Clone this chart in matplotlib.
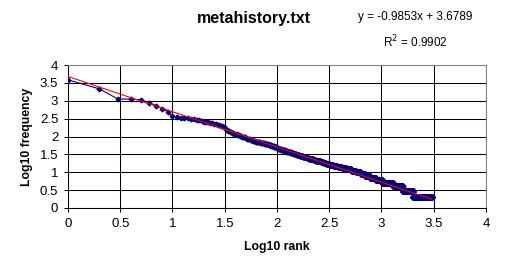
import matplotlib.pyplot as plt
import numpy as np

plt.rcParams['font.family'] = ['Liberation Sans', 'DejaVu Sans']

# word counts of the most frequent words (rank 1, 2, 3, ...)
top_freqs = [3850, 2140, 1120, 1110, 1050, 890, 725, 590, 500, 365,
             340, 338, 330, 320, 310, 300, 295, 285, 270, 262,
             255, 248, 240, 232, 225, 218, 212, 205, 200, 195,
             190, 172, 155, 145, 140, 134, 128, 123,
             120, 117, 114, 111, 108, 105, 102, 100, 98, 96, 94, 92, 89,
             87, 86, 84, 83, 81, 80, 78, 77, 76, 75, 74, 72,
             71, 71, 70, 69, 69, 68, 67, 67, 66, 65, 65, 64, 63, 63, 62,
             61, 61, 60, 60, 59, 59, 58,
             57, 57, 56, 56, 55, 54, 54, 53, 52, 52, 51, 50, 50, 49, 48, 48, 47]

# rarer words: frequency and how many words have it
low_freqs = [46, 45, 44, 43, 42, 41, 40, 39, 38, 37, 36, 35, 34, 33, 32, 31,
             30, 29, 28, 27, 26, 25, 24, 23, 22, 21, 20, 19, 18, 17, 16, 15,
             14, 13, 12, 11, 10, 9, 8, 7, 6, 5, 4, 3, 2]
low_counts = [2, 2, 3, 3, 3, 3, 3, 3, 3, 4, 4, 4, 4, 5, 5, 5,
              6, 6, 6, 8, 8, 9, 10, 11, 12, 13, 14, 16, 17, 24, 28, 33,
              38, 44, 54, 55, 60, 65, 80, 105, 140, 270, 300, 415, 1020]

# excel trendline
slope = -0.9853
intercept = 3.6789
eq_text = "y = -0.9853x + 3.6789"
r2_text = "R$^2$ = 0.9902"

tick_vals = [0, 0.5, 1, 1.5, 2, 2.5, 3, 3.5, 4]
tick_labels = ["0", "0.5", "1", "1.5", "2", "2.5", "3", "3.5", "4"]

freqs = np.concatenate([top_freqs, np.repeat(low_freqs, low_counts)])
ranks = np.arange(1, len(freqs) + 1)
x = np.log10(ranks)
y = np.log10(freqs)

fig = plt.figure(figsize=(5.1, 2.76), dpi=100)
ax = fig.add_axes([68/510, 1 - 208/276, (486-68)/510, (208-65)/276])

ax.plot(x, y, color='#000080', lw=0.8, marker='D', ms=2.4, zorder=3)
xs = np.array([0, x.max()])
ax.plot(xs, slope * xs + intercept, color='#ff0000', lw=0.8, zorder=4)

ax.set_xlim(0, 4)
ax.set_ylim(0, 4)
ax.set_xticks(tick_vals)
ax.set_xticklabels(tick_labels)
ax.set_yticks(tick_vals)
ax.set_yticklabels(tick_labels)
ax.grid(True, color='black', lw=0.75)
ax.tick_params(direction='out', length=3, width=0.75, labelsize=9.5, pad=4)
for s in ['top', 'right']:
    ax.spines[s].set_color('#808080')
for s in ['left', 'bottom']:
    ax.spines[s].set_color('black')
for s in ax.spines.values():
    s.set_linewidth(0.75)

ax.set_xlabel("Log10 rank", fontsize=8.8, fontweight='bold', labelpad=8)
ax.set_ylabel("Log10 frequency", fontsize=8.8, fontweight='bold', labelpad=5)

fig.text(254/510, 1 - 18/276, "metahistory.txt", fontsize=11.5, fontweight='bold',
         ha='center', va='center')
fig.text(415/510, 1 - 17/276, eq_text, fontsize=8.5, ha='center', va='center')
fig.text(415/510, 1 - 42/276, r2_text, fontsize=8.5, ha='center', va='center')

fig.savefig("out.png", dpi=100, facecolor='white')
